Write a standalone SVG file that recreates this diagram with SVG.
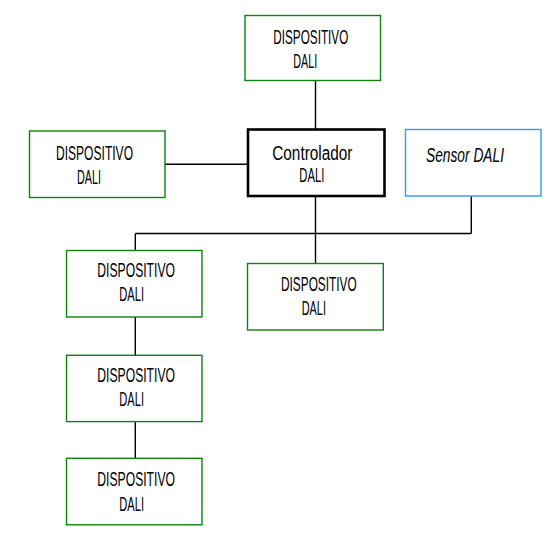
<svg xmlns="http://www.w3.org/2000/svg" width="556" height="543" viewBox="0 0 556 543">
<style>
.dev{fill:#fff;stroke:#108010;stroke-width:1.4}
.ctl{fill:#fff;stroke:#000;stroke-width:2.6}
.sen{fill:#fff;stroke:#3399ee;stroke-width:1.4}
.t{font-family:"Liberation Sans",Arial,sans-serif;font-size:19.5px;fill:#000}
.it{font-style:italic}
.con line{stroke:#000;stroke-width:1.4;fill:none}
</style>
<rect width="556" height="543" fill="#fff"/>
<g class="con" id="connectors">
<line x1="315.5" y1="80" x2="315.5" y2="129"/>
<line x1="165" y1="164.3" x2="248" y2="164.3"/>
<line x1="315.5" y1="196" x2="315.5" y2="264"/>
<line x1="135.3" y1="233.5" x2="471.3" y2="233.5"/>
<line x1="471.3" y1="196" x2="471.3" y2="233.5"/>
<line x1="135.3" y1="233.5" x2="135.3" y2="250"/>
<line x1="135.3" y1="317" x2="135.3" y2="355"/>
<line x1="135.3" y1="421.5" x2="135.3" y2="458"/>
</g>
<g id="dev-top">
<rect class="dev" x="245" y="15.5" width="135.5" height="65"/>
<text class="t" x="273.3" y="44" textLength="75" lengthAdjust="spacingAndGlyphs">DISPOSITIVO</text>
<text class="t" x="293.3" y="68" textLength="24" lengthAdjust="spacingAndGlyphs">DALI</text>
</g>
<g id="controller">
<rect class="ctl" x="248" y="129.5" width="136.5" height="66.5"/>
<text class="t" x="272.3" y="160" textLength="80" lengthAdjust="spacingAndGlyphs">Controlador</text>
<text class="t" x="299.3" y="182.3" textLength="25" lengthAdjust="spacingAndGlyphs">DALI</text>
</g>
<g id="sensor">
<rect class="sen" x="405.5" y="129.5" width="135.5" height="66.5"/>
<text class="t it" x="426" y="161.7" textLength="78" lengthAdjust="spacingAndGlyphs">Sensor DALI</text>
</g>
<g id="dev-left">
<rect class="dev" x="29.5" y="131" width="135.5" height="66.5"/>
<text class="t" x="56" y="159.5" textLength="77" lengthAdjust="spacingAndGlyphs">DISPOSITIVO</text>
<text class="t" x="77" y="183.5" textLength="24" lengthAdjust="spacingAndGlyphs">DALI</text>
</g>
<g id="dev-col1">
<rect class="dev" x="66.5" y="250.5" width="135.5" height="66.5"/>
<text class="t" x="97.3" y="277.3" textLength="77.7" lengthAdjust="spacingAndGlyphs">DISPOSITIVO</text>
<text class="t" x="119.3" y="301" textLength="24.7" lengthAdjust="spacingAndGlyphs">DALI</text>
</g>
<g id="dev-col2">
<rect class="dev" x="66.5" y="355.3" width="135.5" height="66.3"/>
<text class="t" x="97.3" y="381.7" textLength="77.7" lengthAdjust="spacingAndGlyphs">DISPOSITIVO</text>
<text class="t" x="119.3" y="406" textLength="24.7" lengthAdjust="spacingAndGlyphs">DALI</text>
</g>
<g id="dev-col3">
<rect class="dev" x="66.5" y="458.3" width="135.5" height="66.5"/>
<text class="t" x="97.3" y="486.3" textLength="77.7" lengthAdjust="spacingAndGlyphs">DISPOSITIVO</text>
<text class="t" x="119.3" y="510.7" textLength="24.7" lengthAdjust="spacingAndGlyphs">DALI</text>
</g>
<g id="dev-mid">
<rect class="dev" x="247.5" y="263.5" width="135.8" height="66.5"/>
<text class="t" x="281" y="290.7" textLength="75.7" lengthAdjust="spacingAndGlyphs">DISPOSITIVO</text>
<text class="t" x="301.7" y="315" textLength="24.3" lengthAdjust="spacingAndGlyphs">DALI</text>
</g>
</svg>
